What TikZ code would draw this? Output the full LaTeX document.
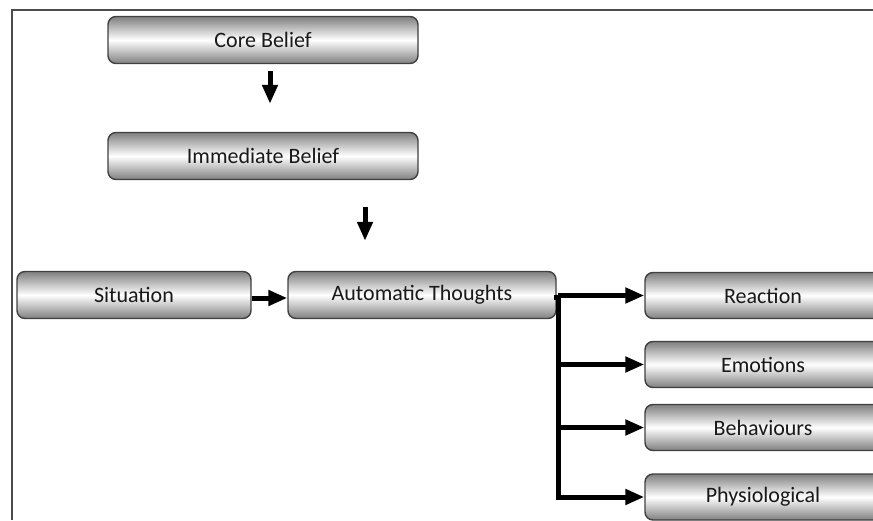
\documentclass[tikz,border=0pt]{standalone}
\usepackage{fontspec}
\setmainfont{Carlito}
\usetikzlibrary{arrows.meta}

\tikzset{
  box/.style={draw=black!75, line width=1.4pt, rounded corners=8pt,
    top color=black!50, bottom color=black!50, middle color=white,
    minimum height=47pt, text=black!90,
    font=\fontsize{22}{26}\selectfont, inner sep=0pt},
  bigarrow/.style={line width=5pt, -{Triangle[length=19pt,width=15pt]}},
  trunkline/.style={line width=5pt, line cap=rect}
}

\begin{document}
\begin{tikzpicture}[x=1pt,y=-1pt]
	\useasboundingbox (0,0) rectangle (873,520);
	% frame
	\draw[black!70, line width=2pt] (12,520) -- (12,10) -- (873,10);

	\node[box, minimum width=310pt] (core)       at (263, 40)  {Core Belief};
	\node[box, minimum width=310pt] (immediate)  at (263, 156) {Immediate Belief};
	\node[box, minimum width=234pt] (situation)  at (134, 295) {Situation};
	\node[box, minimum width=268pt] (automatic)  at (422, 295) {Automatic Thoughts};
	\node[box, minimum width=236pt, minimum height=46pt] (reaction)      at (763, 295.5) {Reaction};
	\node[box, minimum width=236pt, minimum height=46pt] (emotions)      at (763, 364.5) {Emotions};
	\node[box, minimum width=236pt, minimum height=46pt] (behaviours)    at (763, 427.5) {Behaviours};
	\node[box, minimum width=236pt, minimum height=46pt] (physiological) at (763, 497)   {Physiological};

	\draw[bigarrow] ([xshift=7pt,yshift=-7pt]core.south) -- ([xshift=7pt,yshift=28pt]immediate.north);
	\draw[bigarrow] ([xshift=-57pt,yshift=64pt]automatic.north) -- ([xshift=-57pt,yshift=30pt]automatic.north);
	\draw[bigarrow] ([yshift=-3pt]situation.east) -- ([yshift=-3pt]automatic.west);

	\coordinate (fork) at (558, 297);
	\draw[trunkline] ([yshift=-2pt]automatic.east) -- (fork) -- (fork |- physiological.west);
	\foreach \n in {reaction,emotions,behaviours,physiological}
		\draw[bigarrow] (fork |- \n.west) -- (\n.west);
\end{tikzpicture}
\end{document}
